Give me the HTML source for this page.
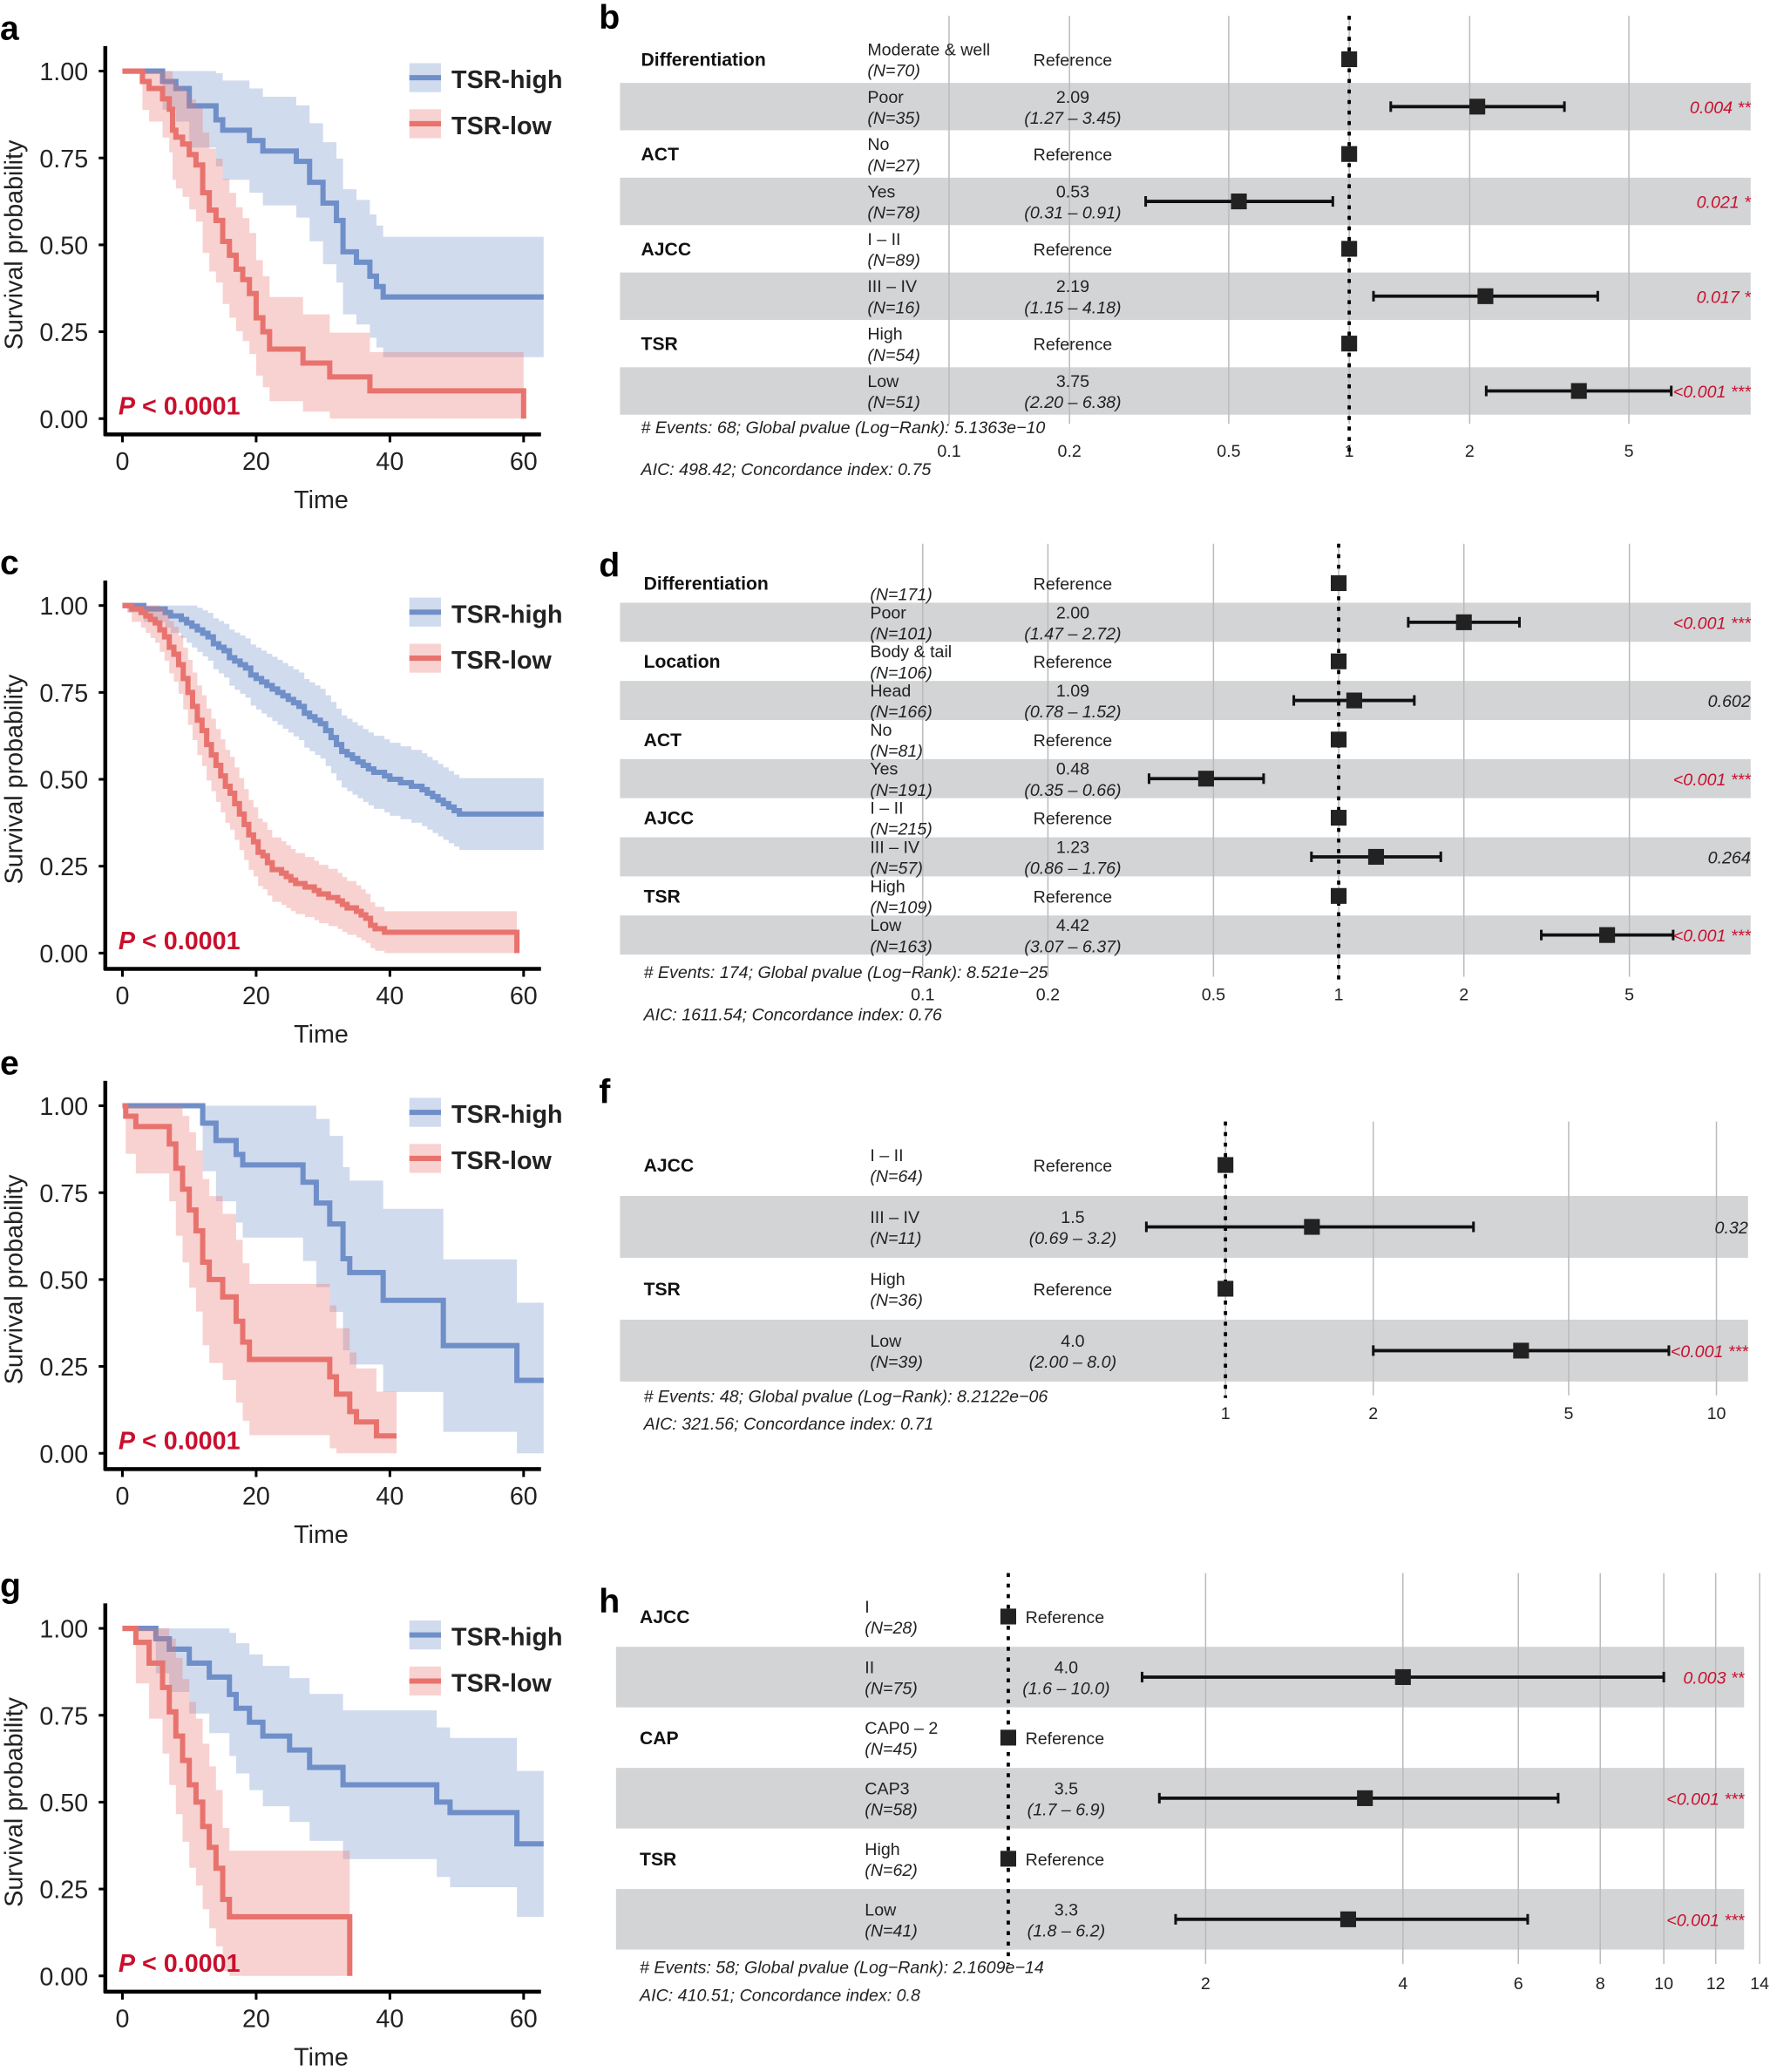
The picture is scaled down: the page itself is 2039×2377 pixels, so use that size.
<!DOCTYPE html>
<html><head><meta charset="utf-8"><style>
html,body{margin:0;padding:0;background:#fff}
svg{display:block}
.t{font-family:"Liberation Sans",sans-serif}
.n{font-family:"Liberation Sans Narrow","Liberation Sans",sans-serif}
</style></head><body>
<svg id="s" width="2039" height="2377" viewBox="0 0 1350 1574" preserveAspectRatio="none" xmlns="http://www.w3.org/2000/svg"></svg>
<script>
const S=document.getElementById('s');let h='';
const BL='#6f8fc9',RD='#e8736e';
function interp(kn,dt){let st=[];let tEnd=kn[kn.length-1][0];for(let t=0;t<tEnd;t+=dt){let i=0;while(i<kn.length-2&&kn[i+1][0]<=t)i++;let a=kn[i],b=kn[i+1];let p=a[1]+(b[1]-a[1])*Math.min(1,(t-a[0])/(b[0]-a[0]));st.push([t,Math.round(p*100)/100]);}return st;}
function km(oy,steps,end,col,k,c0,drop){
 const X=t=>93+5.08*t,Y=p=>oy+318-264*p;
 const w=p=>c0+k*Math.sqrt(Math.max(0,p*(1-p)));
 let up=[],lo=[];
 for(let i=0;i<steps.length;i++){let t0=steps[i][0],t1=i<steps.length-1?steps[i+1][0]:end,p=steps[i][1];
  let u=Math.min(1,p+w(p)),l=Math.max(0,p-w(p));if(i==0){u=1;l=Math.max(0,p-0.0)}
  up.push([X(t0),Y(u)],[X(t1),Y(u)]);lo.push([X(t0),Y(l)],[X(t1),Y(l)]);}
 let pts=up.concat(lo.reverse()).map(a=>a[0].toFixed(1)+','+a[1].toFixed(1)).join(' ');
 h+=`<polygon points="${pts}" fill="${col}" fill-opacity="0.32"/>`;
 let d=`M${X(steps[0][0])},${Y(steps[0][1])}`;
 for(let i=1;i<steps.length;i++){d+=`H${X(steps[i][0]).toFixed(1)}V${Y(steps[i][1]).toFixed(1)}`;}
 d+=`H${X(end).toFixed(1)}`;if(drop)d+=`V${Y(0)}`;
 h+=`<path d="${d}" fill="none" stroke="${col}" stroke-width="4"/>`;
}
function axes(oy,L){
 h+=`<text class="t" x="0" y="${oy+30}" font-size="26" font-weight="bold">${L}</text>`;
 h+=`<line x1="80" y1="${oy+35}" x2="80" y2="${oy+331}" stroke="#000" stroke-width="3"/>`;
 h+=`<line x1="79" y1="${oy+330}" x2="411" y2="${oy+330}" stroke="#000" stroke-width="3"/>`;
 ['1.00','0.75','0.50','0.25','0.00'].forEach((s,i)=>{let y=oy+54+66*i;h+=`<line x1="75" y1="${y}" x2="80" y2="${y}" stroke="#000" stroke-width="2"/><text class="t" x="67" y="${y+7}" font-size="19" text-anchor="end" fill="#222">${s}</text>`});
 [0,20,40,60].forEach(v=>{let x=93+5.08*v;h+=`<line x1="${x}" y1="${oy+330}" x2="${x}" y2="${oy+336}" stroke="#000" stroke-width="2"/><text class="t" x="${x}" y="${oy+357}" font-size="19" text-anchor="middle" fill="#222">${v}</text>`});
 h+=`<text class="t" x="244" y="${oy+386}" font-size="19" text-anchor="middle" fill="#222">Time</text>`;
 h+=`<text class="t" x="0" y="0" font-size="19" text-anchor="middle" fill="#222" transform="translate(17,${oy+186}) rotate(-90)">Survival probability</text>`;
 h+=`<rect x="311" y="${oy+48}" width="24" height="22" fill="${BL}" fill-opacity="0.32"/><line x1="311" y1="${oy+59}" x2="335" y2="${oy+59}" stroke="${BL}" stroke-width="4"/><text class="t" x="343" y="${oy+67}" font-size="19" font-weight="bold" fill="#222">TSR-high</text>`;
 h+=`<rect x="311" y="${oy+83}" width="24" height="22" fill="${RD}" fill-opacity="0.32"/><line x1="311" y1="${oy+94}" x2="335" y2="${oy+94}" stroke="${RD}" stroke-width="4"/><text class="t" x="343" y="${oy+102}" font-size="19" font-weight="bold" fill="#222">TSR-low</text>`;
 h+=`<text class="t" x="90" y="${oy+315}" font-size="19" font-weight="bold" fill="#c8102e"><tspan font-style="italic">P</tspan> &lt; 0.0001</text>`;
}
// a
km(0,[[0,1],[6,.97],[8,.95],[10,.9],[14,.86],[15,.83],[19,.8],[21,.77],[26,.74],[28,.68],[30,.62],[32,.57],[33,.48],[35,.45],[37,.41],[38,.38],[39,.35]],63,BL,0.3,0.03);
km(0,[[0,1],[3,.97],[4,.95],[6,.92],[7,.89],[7.5,.83],[8,.81],[9,.79],[10,.76],[11,.73],[12,.65],[13,.6],[14,.57],[15,.51],[16,.47],[17,.43],[18,.4],[19,.36],[20,.29],[21,.25],[22,.2],[27,.16],[31,.12],[37,.08]],60,RD,0.3,0.03,true);
axes(0,'a');
// c
km(406,interp([[0,1],[5,.99],[10,.95],[15,.87],[20,.79],[25,.73],[30,.65],[33,.58],[35,.55],[40,.5],[45,.47],[48,.43],[50,.4],[51,.4]],0.8).concat([[51,.4]]),63,BL,0.17,0.02);
km(406,interp([[0,1],[2,.99],[5,.95],[8,.85],[10,.74],[12,.63],[15,.5],[18,.38],[20,.3],[22,.25],[25,.21],[30,.17],[35,.12],[38,.07],[40,.06],[41,.06]],0.7),59,RD,0.17,0.02,true);
axes(406,'c');
// e
km(786,[[0,1],[12,.95],[14,.9],[17,.86],[18,.83],[27,.78],[29,.72],[31,.66],[33,.56],[34,.52],[39,.44],[48,.31],[59,.21]],63,BL,0.45,0.04);
km(786,[[0,1],[.5,.97],[2,.94],[7,.89],[8,.82],[9,.76],[10,.7],[11,.64],[12,.55],[13,.5],[15,.45],[17,.38],[18,.32],[19,.27],[31,.22],[32,.17],[34,.12],[35,.09],[38,.05]],41,RD,0.4,0.04);
axes(786,'e');
// g
km(1183,[[0,1],[5,.97],[7,.94],[10,.9],[13,.86],[16,.81],[17,.77],[19,.73],[21,.69],[25,.65],[28,.6],[33,.55],[47,.5],[49,.47],[59,.38]],63,BL,0.35,0.04);
km(1183,[[0,1],[2,.96],[4,.9],[6,.83],[7,.76],[8,.69],[9,.62],[10,.55],[11,.5],[12,.43],[13,.37],[14,.31],[15,.22],[16,.17]],34,RD,0.4,0.04,true);
axes(1183,'g');

// forest
function forest(o){
 const X=v=>o.x1+o.dec*Math.log10(v);
 h+=`<text class="t" x="455" y="${o.ly}" font-size="26" font-weight="bold">${o.L}</text>`;
 o.rows.forEach((r,i)=>{let y=o.y0+o.rh*i;if(i%2==1)h+=`<rect x="${o.bx0}" y="${y-o.rh/2}" width="${o.bx1-o.bx0}" height="${o.rh}" fill="#d3d4d6"/>`;});
 o.ticks.forEach(v=>{h+=`<line x1="${X(v)}" y1="${o.gt}" x2="${X(v)}" y2="${o.gb}" stroke="#bbb" stroke-width="1"/><text class="n" x="${X(v)}" y="${o.ty}" font-size="13" text-anchor="middle" fill="#222">${v}</text>`});
 h+=`<line x1="${X(1)}" y1="${o.gt}" x2="${X(1)}" y2="${o.dl}" stroke="#000" stroke-width="2.5" stroke-dasharray="3,5"/>`;
 o.rows.forEach((r,i)=>{let y=o.y0+o.rh*i;
  if(r.c)h+=`<text class="n" x="${o.cx}" y="${y+5}" font-size="14" font-weight="bold" fill="#111">${r.c}</text>`;
  if(r.l)h+=`<text class="n" x="${o.lx}" y="${y-3}" font-size="13" fill="#222">${r.l}</text>`;
  h+=`<text class="n" x="${o.lx}" y="${y+13}" font-size="13" font-style="italic" fill="#222">${r.n}</text>`;
  if(r.e){h+=`<text class="n" x="${o.ex}" y="${y-3}" font-size="13" text-anchor="middle" fill="#222">${r.e}</text><text class="n" x="${o.ex}" y="${y+13}" font-size="13" font-style="italic" text-anchor="middle" fill="#222">${r.ci}</text>`;
   h+=`<line x1="${X(r.lo)}" y1="${y}" x2="${X(r.hi)}" y2="${y}" stroke="#111" stroke-width="2.5"/><line x1="${X(r.lo)}" y1="${y-4}" x2="${X(r.lo)}" y2="${y+4}" stroke="#111" stroke-width="2"/><line x1="${X(r.hi)}" y1="${y-4}" x2="${X(r.hi)}" y2="${y+4}" stroke="#111" stroke-width="2"/><rect x="${X(r.v)-6}" y="${y-6}" width="12" height="12" fill="#222"/>`;
   h+=`<text class="n" x="${o.bx1}" y="${y+5}" font-size="13" font-style="italic" text-anchor="end" fill="${r.red?'#c8102e':'#222'}">${r.p}</text>`;
  }else{h+=`<text class="n" x="${o.rx}" y="${y+5}" font-size="13" text-anchor="${o.ra}" fill="#222">Reference</text><rect x="${X(1)-6}" y="${y-6}" width="12" height="12" fill="#222"/>`;}
 });
 h+=`<text class="n" x="${o.cx}" y="${o.f1}" font-size="13" font-style="italic" fill="#222">${o.ft1}</text><text class="n" x="${o.cx}" y="${o.f2}" font-size="13" font-style="italic" fill="#222">${o.ft2}</text>`;
}
forest({L:'b',ly:22,x1:1025,dec:304,y0:45,rh:36,bx0:471,bx1:1330,gt:12,gb:322,dl:345,ty:347,cx:487,lx:659,ex:815,rx:815,ra:'middle',ticks:[0.1,0.2,0.5,1,2,5],f1:329,f2:361,
 ft1:'# Events: 68; Global pvalue (Log−Rank): 5.1363e−10',ft2:'AIC: 498.42; Concordance index: 0.75',rows:[
 {c:'Differentiation',l:'Moderate &amp; well',n:'(N=70)'},{l:'Poor',n:'(N=35)',e:'2.09',ci:'(1.27 – 3.45)',v:2.09,lo:1.27,hi:3.45,p:'0.004 **',red:1},
 {c:'ACT',l:'No',n:'(N=27)'},{l:'Yes',n:'(N=78)',e:'0.53',ci:'(0.31 – 0.91)',v:.53,lo:.31,hi:.91,p:'0.021 *',red:1},
 {c:'AJCC',l:'I – II',n:'(N=89)'},{l:'III – IV',n:'(N=16)',e:'2.19',ci:'(1.15 – 4.18)',v:2.19,lo:1.15,hi:4.18,p:'0.017 *',red:1},
 {c:'TSR',l:'High',n:'(N=54)'},{l:'Low',n:'(N=51)',e:'3.75',ci:'(2.20 – 6.38)',v:3.75,lo:2.2,hi:6.38,p:'&lt;0.001 ***',red:1}]});
forest({L:'d',ly:438,x1:1017,dec:316,y0:443,rh:29.7,bx0:471,bx1:1330,gt:413,gb:742,dl:745,ty:760,cx:489,lx:661,ex:815,rx:815,ra:'middle',ticks:[0.1,0.2,0.5,1,2,5],f1:743,f2:775,
 ft1:'# Events: 174; Global pvalue (Log−Rank): 8.521e−25',ft2:'AIC: 1611.54; Concordance index: 0.76',rows:[
 {c:'Differentiation',l:'',n:'(N=171)'},{l:'Poor',n:'(N=101)',e:'2.00',ci:'(1.47 – 2.72)',v:2,lo:1.47,hi:2.72,p:'&lt;0.001 ***',red:1},
 {c:'Location',l:'Body &amp; tail',n:'(N=106)'},{l:'Head',n:'(N=166)',e:'1.09',ci:'(0.78 – 1.52)',v:1.09,lo:.78,hi:1.52,p:'0.602'},
 {c:'ACT',l:'No',n:'(N=81)'},{l:'Yes',n:'(N=191)',e:'0.48',ci:'(0.35 – 0.66)',v:.48,lo:.35,hi:.66,p:'&lt;0.001 ***',red:1},
 {c:'AJCC',l:'I – II',n:'(N=215)'},{l:'III – IV',n:'(N=57)',e:'1.23',ci:'(0.86 – 1.76)',v:1.23,lo:.86,hi:1.76,p:'0.264'},
 {c:'TSR',l:'High',n:'(N=109)'},{l:'Low',n:'(N=163)',e:'4.42',ci:'(3.07 – 6.37)',v:4.42,lo:3.07,hi:6.37,p:'&lt;0.001 ***',red:1}]});
forest({L:'f',ly:838,x1:931,dec:373,y0:885,rh:47,bx0:471,bx1:1328,gt:852,gb:1060,dl:1062,ty:1078,cx:489,lx:661,ex:815,rx:815,ra:'middle',ticks:[1,2,5,10],f1:1065,f2:1086,
 ft1:'# Events: 48; Global pvalue (Log−Rank): 8.2122e−06',ft2:'AIC: 321.56; Concordance index: 0.71',rows:[
 {c:'AJCC',l:'I – II',n:'(N=64)'},{l:'III – IV',n:'(N=11)',e:'1.5',ci:'(0.69 – 3.2)',v:1.5,lo:.69,hi:3.2,p:'0.32'},
 {c:'TSR',l:'High',n:'(N=36)'},{l:'Low',n:'(N=39)',e:'4.0',ci:'(2.00 – 8.0)',v:4,lo:2,hi:8,p:'&lt;0.001 ***',red:1}]});
forest({L:'h',ly:1225,x1:766,dec:498,y0:1228,rh:46,bx0:468,bx1:1325,gt:1195,gb:1492,dl:1492,ty:1511,cx:486,lx:657,ex:810,rx:779,ra:'start',ticks:[2,4,6,8,10,12,14],f1:1499,f2:1520,
 ft1:'# Events: 58; Global pvalue (Log−Rank): 2.1609e−14',ft2:'AIC: 410.51; Concordance index: 0.8',rows:[
 {c:'AJCC',l:'I',n:'(N=28)'},{l:'II',n:'(N=75)',e:'4.0',ci:'(1.6 – 10.0)',v:4,lo:1.6,hi:10,p:'0.003 **',red:1},
 {c:'CAP',l:'CAP0 – 2',n:'(N=45)'},{l:'CAP3',n:'(N=58)',e:'3.5',ci:'(1.7 – 6.9)',v:3.5,lo:1.7,hi:6.9,p:'&lt;0.001 ***',red:1},
 {c:'TSR',l:'High',n:'(N=62)'},{l:'Low',n:'(N=41)',e:'3.3',ci:'(1.8 – 6.2)',v:3.3,lo:1.8,hi:6.2,p:'&lt;0.001 ***',red:1}]});
S.innerHTML=h;
</script>
</body></html>
